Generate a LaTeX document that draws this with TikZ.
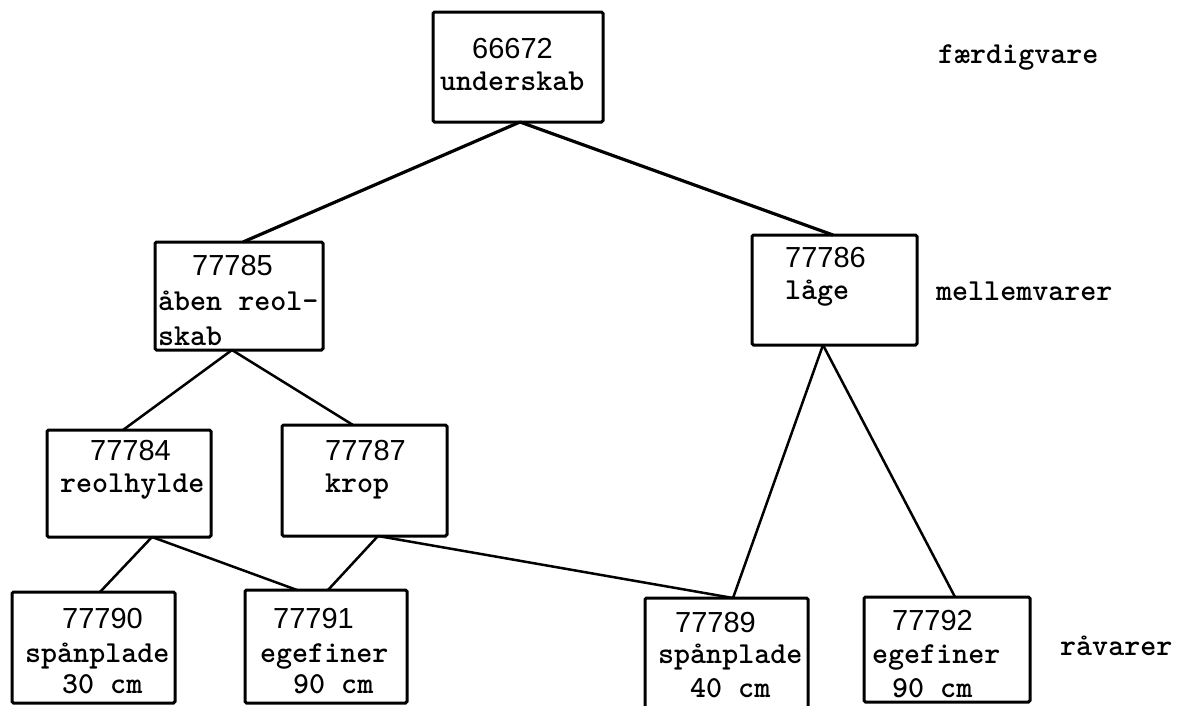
\documentclass[tikz,border=0pt]{standalone}
\usepackage{fontspec}
\usetikzlibrary{calc}
\newfontfamily\typw{lmmonolt10-bold}[Extension=.otf]
\newfontfamily\digs{Liberation Sans}
\begin{document}
\begin{tikzpicture}[x=1pt,y=-1pt,
  box/.style={draw=black, line width=3pt, rounded corners=1.5pt, anchor=north west, inner sep=0pt, outer sep=0pt},
  conn/.style={draw=black, line width=3.2pt},
  connthin/.style={draw=black, line width=2.5pt},
  txt/.style={anchor=base west, inner sep=0pt, font=\typw\fontsize{30.5}{30}\selectfont},
  num/.style={anchor=base west, inner sep=0pt, font=\digs\fontsize{29}{29}\selectfont}]
\clip (0,0) rectangle (1183,705);
\fill[white] (0,0) rectangle (1183,705);

% boxes
\node[box, minimum width=170pt, minimum height=110pt] (A) at (433,12) {};
\node[box, minimum width=168pt, minimum height=108pt] (B) at (155,242) {};
\node[box, minimum width=165pt, minimum height=110pt] (I) at (752,235) {};
\node[box, minimum width=164pt, minimum height=107pt] (C) at (47,430) {};
\node[box, minimum width=165pt, minimum height=111pt] (D) at (282,425) {};
\node[box, minimum width=163pt, minimum height=111pt] (E) at (12,592) {};
\node[box, minimum width=162pt, minimum height=113pt] (F) at (245,590) {};
\node[box, minimum width=163pt, minimum height=140pt] (G) at (645,598) {};
\node[box, minimum width=166pt, minimum height=105pt] (H) at (864,597) {};

% connectors
\coordinate (Abot) at ($(A.south west)+(87,0)$);
\coordinate (Bbot) at ($(B.south west)+(77,0)$);
\coordinate (Ibot) at ($(I.south west)+(71,0)$);
\coordinate (Cbot) at ($(C.south west)+(105,0)$);
\coordinate (Dbot) at ($(D.south west)+(96,0)$);
\draw[conn] (Abot) -- ($(B.north west)+(88,0)$);
\draw[conn] (Abot) -- ($(I.north west)+(81,0)$);
\draw[connthin] (Bbot) -- ($(C.north west)+(76,0)$);
\draw[connthin] (Bbot) -- ($(D.north west)+(71,0)$);
\draw[connthin] (Cbot) -- ($(E.north west)+(88,0)$);
\draw[connthin] (Cbot) -- ($(F.north west)+(52,0)$);
\draw[connthin] (Dbot) -- ($(F.north west)+(83,0)$);
\draw[connthin] (Dbot) -- ($(G.north west)+(88,0)$);
\draw[connthin] (Ibot) -- ($(G.north west)+(88,0)$);
\draw[connthin] (Ibot) -- ($(H.north west)+(91,0)$);

% texts
\node[num] (a1) at (472,58) {66672};
\node[txt] (a2) at (440,90) {underskab};
\node[num] (b1) at (192,275) {77785};
\node[txt] (b2) at (158,310) {åben reol-};
\node[txt] (b3) at (158,345) {skab};
\node[num] (i1) at (785,267) {77786};
\node[txt] (i2) at (785,299) {låge};
\node[num] (c1) at (90,460) {77784};
\node[txt] (c2) at (60,492) {reolhylde};
\node[num] (d1) at (325,460) {77787};
\node[txt] (d2) at (325,492) {krop};
\node[num] (e1) at (62,628) {77790};
\node[txt] (e2) at (25,662) {spånplade};
\node[txt] (e3) at (62,693) {30 cm};
\node[num] (f1) at (273,628) {77791};
\node[txt] (f2) at (260,662) {egefiner};
\node[txt] (f3) at (293,693) {90 cm};
\node[num] (g1) at (675,632) {77789};
\node[txt] (g2) at (658,663) {spånplade};
\node[txt] (g3) at (690,697) {40 cm};
\node[num] (h1) at (892,630) {77792};
\node[txt] (h2) at (872,663) {egefiner};
\node[txt] (h3) at (892,697) {90 cm};

\node[txt] (l1) at (938,63) {færdigvare};
\node[txt] (l2) at (936,300) {mellemvarer};
\node[txt] (l3) at (1060,655) {råvarer};
\end{tikzpicture}
\end{document}
